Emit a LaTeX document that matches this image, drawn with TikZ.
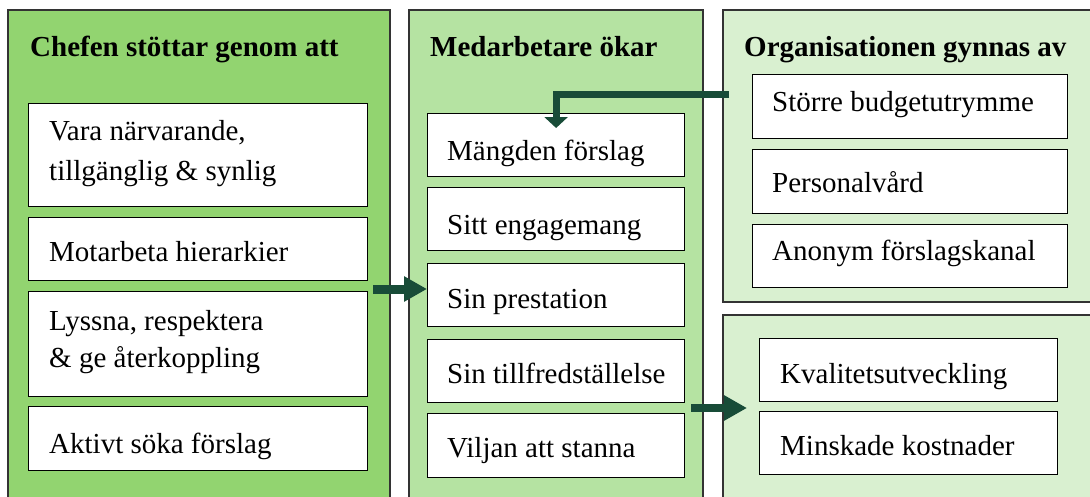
\documentclass[tikz,border=0pt]{standalone}
\usepackage{fontspec}
\setmainfont{Liberation Serif}
\usetikzlibrary{arrows.meta,calc}
\definecolor{pA}{RGB}{146,212,112}
\definecolor{pB}{RGB}{181,227,162}
\definecolor{pC}{RGB}{217,240,208}
\definecolor{arr}{RGB}{24,76,56}
\begin{document}
\begin{tikzpicture}[x=1pt,y=-1pt,
  panel/.style={draw=black!80,line width=1.1pt},
  box/.style={draw=black,fill=white,line width=1.2pt,inner sep=0pt,anchor=north west},
  txt/.style={anchor=base west,inner sep=0pt,font=\fontsize{29}{35}\selectfont},
  ttl/.style={anchor=base west,inner sep=0pt,font=\fontsize{29}{35}\selectfont\bfseries},
  conn/.style={draw=arr,line width=9pt,-{Triangle[length=23pt,width=24pt]}},
  elbow/.style={draw=arr,line width=7pt,-{Triangle[length=11pt,width=23pt]}}]
\useasboundingbox (0,0) rectangle (1090,496);
\clip (0,0) rectangle (1090,496);
% panels
\path[panel,fill=pA] (8,10) rectangle (390,510);
\path[panel,fill=pB] (409,10) rectangle (703,510);
\path[panel,fill=pC] (723,10) rectangle (1100,302);
\path[panel,fill=pC] (723,315) rectangle (1100,510);
% titles
\node[ttl] (t1) at (30,56) {Chefen stöttar genom att};
\node[ttl] (t2) at (430,56) {Medarbetare ökar};
\node[ttl] (t3) at (744,56) {Organisationen gynnas av};
% left boxes
\node[box,minimum width=339pt,minimum height=103pt] (l1) at (28,103) {};
\node[box,minimum width=339pt,minimum height=63pt] (l2) at (28,217) {};
\node[box,minimum width=339pt,minimum height=105pt] (l3) at (28,291) {};
\node[box,minimum width=339pt,minimum height=64pt] (l4) at (28,406) {};
\node[txt] (l1a) at (49,140) {Vara närvarande,};
\node[txt] (l1b) at (49,180) {tillgänglig \& synlig};
\node[txt] (l2a) at (49,261) {Motarbeta hierarkier};
\node[txt] (l3a) at (49,330) {Lyssna, respektera};
\node[txt] (l3b) at (49,367) {\& ge återkoppling};
\node[txt] (l4a) at (49,453) {Aktivt söka förslag};
% middle boxes
\node[box,minimum width=257pt,minimum height=63pt] (m1) at (427,113) {};
\node[box,minimum width=257pt,minimum height=63pt] (m2) at (427,187) {};
\node[box,minimum width=257pt,minimum height=63pt] (m3) at (427,263) {};
\node[box,minimum width=257pt,minimum height=63pt] (m4) at (427,339) {};
\node[box,minimum width=257pt,minimum height=64pt] (m5) at (427,413) {};
\node[txt] (m1a) at (447,160) {Mängden förslag};
\node[txt] (m2a) at (447,234) {Sitt engagemang};
\node[txt] (m3a) at (447,308) {Sin prestation};
\node[txt] (m4a) at (447,383) {Sin tillfredställelse};
\node[txt] (m5a) at (447,457) {Viljan att stanna};
% right top boxes
\node[box,minimum width=315pt,minimum height=64pt] (r1) at (752,74) {};
\node[box,minimum width=315pt,minimum height=64pt] (r2) at (752,149) {};
\node[box,minimum width=315pt,minimum height=63pt] (r3) at (752,224) {};
\node[txt] (r1a) at (772,111) {Större budgetutrymme};
\node[txt] (r2a) at (772,192) {Personalvård};
\node[txt] (r3a) at (772,260) {Anonym förslagskanal};
% right bottom boxes
\node[box,minimum width=298pt,minimum height=63pt] (s1) at (759,338) {};
\node[box,minimum width=298pt,minimum height=63pt] (s2) at (759,411) {};
\node[txt] (s1a) at (780,383) {Kvalitetsutveckling};
\node[txt] (s2a) at (780,455) {Minskade kostnader};
% arrows
\coordinate (a1s) at (373,289);
\draw[conn] (a1s) -- (a1s -| m3.west);
\coordinate (a2s) at (691,408);
\coordinate (a2t) at (747,408);
\draw[conn,line width=8pt] (a2s) -- (a2t);
\coordinate (a3s) at (729,94);
\coordinate (a3t) at ($(m1.north)+(0,15)$);
\draw[elbow] (a3s) -| (a3t);
\end{tikzpicture}
\end{document}
